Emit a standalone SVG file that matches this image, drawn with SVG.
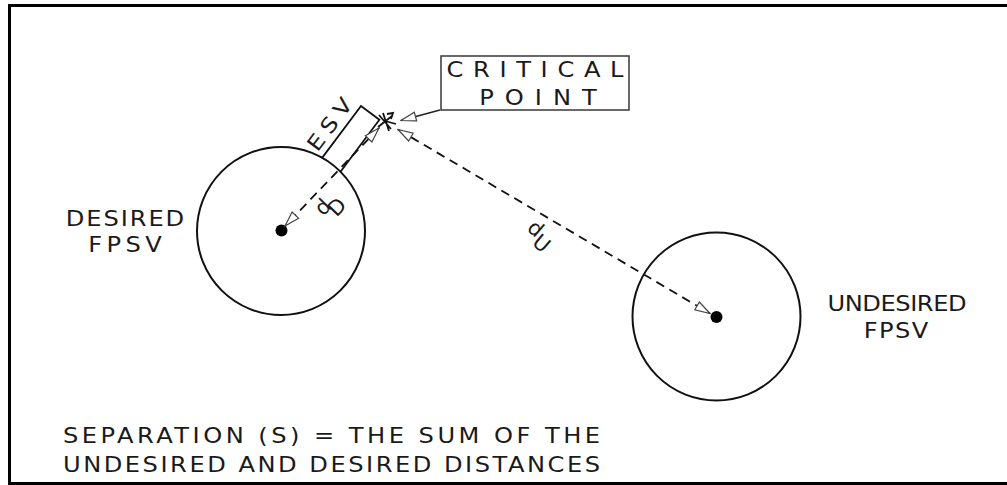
<svg xmlns="http://www.w3.org/2000/svg" width="1007" height="485" viewBox="0 0 1007 485">
  <defs>
    <style>
      .t { font-family: "DejaVu Sans", "Liberation Sans", sans-serif; font-size: 21px; fill: #1a1a1a; }
      .circ { fill: none; stroke: #111; stroke-width: 2; }
      .dash { fill: none; stroke: #111; stroke-width: 1.8; stroke-dasharray: 9 6; }
      .thin { fill: none; stroke: #222; stroke-width: 1.6; }
    </style>
    <marker id="open" viewBox="0 0 17 11" refX="16" refY="5.5" markerWidth="17" markerHeight="11" markerUnits="userSpaceOnUse" orient="auto-start-reverse">
      <path d="M1,1 L16,5.5 L1,10 Z" fill="#fff" stroke="#444" stroke-width="1.2"/>
    </marker>
  </defs>
  <rect width="1007" height="485" fill="#fff"/>
  <!-- frame -->
  <path d="M1007,5.5 H9.5 V483.5 H1007" fill="none" stroke="#000" stroke-width="3"/>

  <g id="desired">
    <circle class="circ" cx="281" cy="231" r="84"/>
    <circle cx="281.5" cy="230.5" r="6" fill="#000"/>
    <text class="t" transform="translate(125,226) scale(1.15,1)" text-anchor="middle" textLength="103">DESIRED</text>
    <text class="t" transform="translate(125,252) scale(1.15,1)" text-anchor="middle" textLength="64">FPSV</text>
  </g>

  <g id="undesired">
    <circle class="circ" cx="716.5" cy="316.5" r="84"/>
    <circle cx="716.5" cy="317" r="6" fill="#000"/>
    <text class="t" transform="translate(897,311) scale(1.15,1)" text-anchor="middle" textLength="121">UNDESIRED</text>
    <text class="t" transform="translate(896,338) scale(1.15,1)" text-anchor="middle" textLength="56">FPSV</text>
  </g>

  <g id="esv">
    <path d="M322.1,157.9 L361,106 L379.4,119.8 L340.3,172" fill="none" stroke="#111" stroke-width="1.8"/>
    <text class="t" transform="translate(329,124) rotate(-53) scale(1.15,1)" x="0" y="8" text-anchor="middle" textLength="52">ESV</text>
  </g>

  <g id="critical-point">
    <rect x="441" y="56" width="188" height="54" fill="none" stroke="#444" stroke-width="1.6"/>
    <text class="t" transform="translate(535,77) scale(1.15,1)" text-anchor="middle" textLength="154">CRITICAL</text>
    <text class="t" transform="translate(538,105) scale(1.15,1)" text-anchor="middle" textLength="102">POINT</text>
    <g stroke="#111" stroke-width="1.8" fill="none">
      <path d="M379,115 L391,129 M378,127 L392,116 M383,113 L389,131 M385,121 L396,124"/>
      <path d="M387,114 L393,113 L391,119"/>
    </g>
  </g>

  <g id="connectors">
    <line class="dash" x1="379" y1="128" x2="285" y2="226" marker-start="url(#open)" marker-end="url(#open)"/>
    <line class="dash" x1="398" y1="129.5" x2="710" y2="313.5" marker-start="url(#open)" marker-end="url(#open)"/>
    <line class="thin" x1="440" y1="110" x2="401" y2="120.5" marker-end="url(#open)"/>
    <text class="t" transform="translate(328,212) rotate(-46)" x="0" y="0" text-anchor="middle" font-size="18">d</text>
    <text class="t" transform="translate(342,212) rotate(-46)" x="0" y="0" text-anchor="middle">D</text>
    <text class="t" transform="translate(531,234) rotate(40)" x="0" y="0" text-anchor="middle" font-size="18">d</text>
    <text class="t" transform="translate(537,249) rotate(40)" x="0" y="0" text-anchor="middle">U</text>
  </g>

  <g id="caption">
    <text class="t" transform="translate(63,443) scale(1.15,1)" textLength="467" font-size="22">SEPARATION (S) = THE SUM OF THE</text>
    <text class="t" transform="translate(63,472) scale(1.15,1)" textLength="467" font-size="22">UNDESIRED AND DESIRED DISTANCES</text>
  </g>
</svg>
